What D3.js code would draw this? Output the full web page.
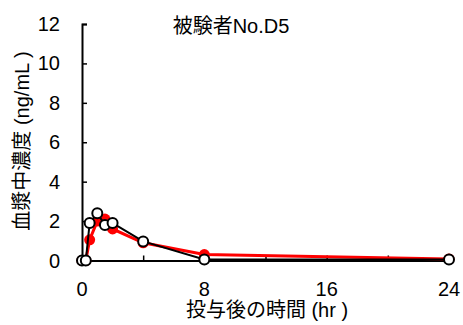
<!DOCTYPE html>
<html>
<head>
<meta charset="utf-8">
<script src="https://cdn.jsdelivr.net/npm/d3@7"></script>
<style>
  html, body { margin: 0; padding: 0; background: #fff; }
  svg text { font-family: "Liberation Sans", Arial, "Noto Sans CJK JP", sans-serif; fill: #000; }
</style>
</head>
<body>
<svg id="chart" width="463" height="325"></svg>
<script>
// Sampling times (hr)
const times = [0, 0.25, 0.5, 1, 1.5, 2, 4, 8, 24];
// Plasma concentration (ng/mL), red filled markers
const seriesRed = [0, 0, 1.05, 2.0, 2.1, 1.6, 0.9, 0.3, 0.08];
// Plasma concentration (ng/mL), black open markers
const seriesBlack = [0, 0, 1.9, 2.4, 1.8, 1.9, 0.97, 0.05, 0.05];
const xTicks = [0, 4, 8, 12, 16, 20, 24];
const xTickLabels = [0, 8, 16, 24];
const yTicks = [0, 2, 4, 6, 8, 10, 12];
const title = "被験者No.D5";
const xTitle = "投与後の時間 (hr )";
const yTitle = "血漿中濃度 (ng/mL )";

const svg = d3.select("#chart");
const x = d3.scaleLinear().domain([0, 24]).range([82, 449]);
const y = d3.scaleLinear().domain([0, 12]).range([260.5, 24]);

// Axes
const xAxis = svg.append("g").attr("transform", `translate(0,${y(0)})`)
  .call(d3.axisBottom(x).tickValues(xTicks).tickSize(-5).tickFormat(""));
const yAxis = svg.append("g").attr("transform", `translate(${x(0)},0)`)
  .call(d3.axisLeft(y).tickValues(yTicks).tickSize(-5).tickFormat(""));
[xAxis, yAxis].forEach(g => {
  g.select(".domain").attr("stroke", "#000").attr("stroke-width", 2);
  g.selectAll(".tick line").attr("stroke", "#000").attr("stroke-width", 1.5);
});

// Tick labels
svg.append("g").selectAll("text").data(xTickLabels).join("text")
  .attr("x", d => x(d)).attr("y", 296)
  .attr("text-anchor", "middle").attr("font-size", 20)
  .text(d => d);
svg.append("g").selectAll("text").data(yTicks).join("text")
  .attr("x", 60).attr("y", d => y(d) + 7)
  .attr("text-anchor", "end").attr("font-size", 20)
  .text(d => d);

// Titles
svg.append("text").attr("x", 231).attr("y", 33)
  .attr("text-anchor", "middle").attr("font-size", 20).text(title);
svg.append("text").attr("x", 267).attr("y", 317)
  .attr("text-anchor", "middle").attr("font-size", 20).text(xTitle);
svg.append("text").attr("transform", "translate(29,141) rotate(-90)")
  .attr("text-anchor", "middle").attr("font-size", 20).text(yTitle);

const line = d3.line().x(d => x(d[0])).y(d => y(d[1]));

// Red series
const redData = times.map((t, i) => [t, seriesRed[i]]);
svg.append("path").datum(redData).attr("d", line)
  .attr("fill", "none").attr("stroke", "#ff0000").attr("stroke-width", 3);
svg.append("g").selectAll("circle").data(redData).join("circle")
  .attr("cx", d => x(d[0])).attr("cy", d => y(d[1])).attr("r", 5.5)
  .attr("fill", "#ff0000");

// Black series
const blackData = times.map((t, i) => [t, seriesBlack[i]]);
svg.append("path").datum(blackData).attr("d", line)
  .attr("fill", "none").attr("stroke", "#000").attr("stroke-width", 2);
svg.append("g").selectAll("circle").data(blackData).join("circle")
  .attr("cx", d => x(d[0])).attr("cy", d => y(d[1])).attr("r", 5)
  .attr("fill", "#fff").attr("stroke", "#000").attr("stroke-width", 2);
</script>
</body>
</html>
